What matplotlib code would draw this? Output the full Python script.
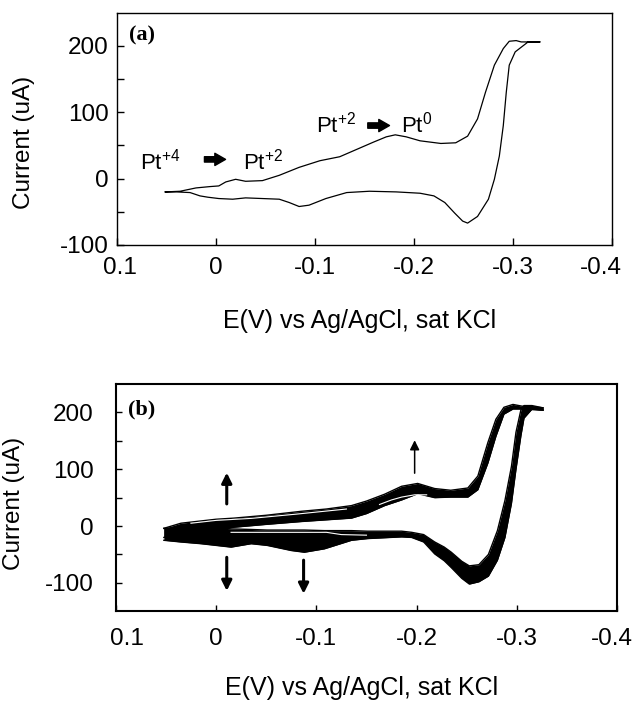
import matplotlib
matplotlib.use("Agg")
import matplotlib.pyplot as plt
from matplotlib.transforms import ScaledTranslation

plt.rcParams["font.family"] = ["Liberation Sans", "DejaVu Sans"]
plt.rcParams["mathtext.default"] = "regular"
plt.rcParams["axes.unicode_minus"] = False

# panel (a): one cyclic voltammogram, E (V) vs current (uA)
E_A_FWD = [0.051, 0.036, 0.020, 0.006, -0.003, -0.010, -0.020, -0.030, -0.047, -0.064,
           -0.084, -0.105, -0.125, -0.142, -0.159, -0.172, -0.181, -0.192, -0.206, -0.227,
           -0.242, -0.254, -0.264, -0.272, -0.281, -0.290, -0.296, -0.303, -0.308, -0.327]
I_A_FWD = [-20, -19, -14, -12, -11, -5, -1, -4, -3, 5,
           17, 27, 33, 44, 55, 63, 66, 63, 57, 53,
           54, 64, 90, 130, 171, 196, 207, 208, 206, 206]
E_A_REV = [-0.327, -0.315, -0.302, -0.296, -0.293, -0.290, -0.286, -0.281, -0.275, -0.264,
           -0.254, -0.249, -0.241, -0.231, -0.220, -0.206, -0.182, -0.155, -0.132, -0.111,
           -0.094, -0.084, -0.074, -0.064, -0.047, -0.030, -0.017, -0.003, 0.008, 0.016,
           0.026, 0.040, 0.051]
I_A_REV = [206, 206, 191, 171, 130, 80, 34, -1, -31, -57,
           -67, -64, -52, -36, -26, -22, -20, -19, -21, -30,
           -40, -42, -36, -31, -30, -29, -31, -30, -28, -26,
           -21, -20, -20]

# panel (b): repeated cycles, drawn as the band between the outermost scans
E_B_FWD = [0.052, 0.035, 0.015, 0.000, -0.018, -0.050, -0.085, -0.110, -0.135, -0.150,
           -0.168, -0.185, -0.201, -0.218, -0.234, -0.251, -0.261, -0.271, -0.279, -0.287,
           -0.296, -0.305, -0.315, -0.326]
I_B_FWD_HI = [-4, 5, 9, 12, 14, 19, 26, 30, 36, 44,
              56, 70, 75, 66, 63, 67, 88, 147, 188, 209,
              214, 211, 210, 208]
I_B_FWD_LO = [-20, -15, -10, -6, -2, 3, 8, 11, 14, 22,
              36, 46, 57, 50, 51, 51, 64, 111, 158, 197,
              206, 206, 205, 204]
E_B_REV = [-0.326, -0.315, -0.307, -0.304, -0.299, -0.2945, -0.288, -0.2805, -0.2715, -0.262,
           -0.2525, -0.245, -0.2345, -0.2275, -0.218, -0.207, -0.195, -0.185, -0.151, -0.135,
           -0.108, -0.088, -0.075, -0.051, -0.035, -0.015, 0.000, 0.015, 0.035, 0.052]
I_B_REV_HI = [208, 212, 212, 205, 165, 105, 45, -8, -50, -68,
              -70, -62, -46, -37, -28, -15, -11, -9, -9, -8,
              -8, -7, -7, -7, -6, -5, -2, -2, -3, -4]
I_B_REV_LO = [204, 206, 190, 160, 100, 40, -20, -60, -88, -98,
              -102, -92, -73, -61, -49, -28, -20, -19, -22, -25,
              -40, -46, -43, -34, -31, -37, -34, -31, -28, -25]

# white gaps between individual scans inside the band
GAP_1_E = [-0.163, -0.175, -0.185, -0.198, -0.210]
GAP_1_I = [38, 46, 51, 55, 55]
GAP_2_E = [-0.015, -0.060, -0.110, -0.125, -0.150]
GAP_2_I = [-11, -11, -11, -15, -16]
GAP_3_E = [0.025, 0.000, -0.035, -0.080, -0.130]
GAP_3_I = [5, 10, 13.5, 21, 30]

X_TICKS = [0.1, 0.0, -0.1, -0.2, -0.3, -0.4]
X_TICK_LABELS = ["0.1", "0", "-0.1", "-0.2", "-0.3", "-0.4"]
Y_TICKS = [-100, 0, 100, 200]
XLABEL = "E(V) vs Ag/AgCl, sat KCl"
YLABEL = "Current (uA)"


def style_axes(fig, ax, ylim, minor_y, frame_lw, xpad, ypad, tick_len, end_shift):
    ax.set_xlim(0.1, -0.4)
    ax.set_ylim(*ylim)
    ax.set_xticks(X_TICKS)
    ax.set_xticklabels(X_TICK_LABELS)
    ax.set_yticks(Y_TICKS)
    ax.set_yticks(minor_y, minor=True)
    ax.tick_params(axis="both", which="both", direction="in", length=tick_len,
                   width=1, labelsize=17.5, top=False, right=False)
    ax.tick_params(axis="x", pad=xpad)
    ax.tick_params(axis="y", pad=ypad)
    for spine in ax.spines.values():
        spine.set_linewidth(frame_lw)
        spine.set_color("black")
    labels = ax.get_xticklabels()
    for lab, dx in ((labels[0], end_shift[0]), (labels[-1], end_shift[1])):
        lab.set_transform(lab.get_transform() + ScaledTranslation(dx / 100, 0, fig.dpi_scale_trans))
    ax.set_xlabel(XLABEL, fontsize=18)
    ax.set_ylabel(YLABEL, fontsize=17.5)


def draw_panel_a(fig, ax):
    ax.plot(E_A_FWD + E_A_REV, I_A_FWD + I_A_REV, color="black", lw=0.9)
    style_axes(fig, ax, (-100, 250), [-50, 50, 150], 1.0, 9, 6, 5, (3, -11))
    ax.xaxis.set_label_coords(0.49, -0.275)
    ax.yaxis.set_label_coords(-0.165, 0.44)
    ax.text(0.025, 0.90, "(a)", transform=ax.transAxes, fontsize=16, fontweight="bold",
            family="Liberation Serif", va="center", ha="left")

    arrow = dict(arrowstyle="simple,head_length=0.7,head_width=0.8,tail_width=0.35",
                 color="black", mutation_scale=11, shrinkA=0, shrinkB=0)
    ax.text(0.0764, 14, "Pt$^{+4}$", fontsize=16, va="baseline", ha="left")
    ax.annotate("", xy=(-0.0098, 29), xytext=(0.0115, 29), arrowprops=arrow)
    ax.text(-0.027, 14, "Pt$^{+2}$", fontsize=16, va="baseline", ha="left")
    ax.text(-0.101, 70, "Pt$^{+2}$", fontsize=16, va="baseline", ha="left")
    ax.annotate("", xy=(-0.1752, 80), xytext=(-0.1533, 80), arrowprops=arrow)
    ax.text(-0.187, 70, "Pt$^{0}$", fontsize=16, va="baseline", ha="left")


def draw_panel_b(fig, ax):
    ax.fill_between(E_B_FWD, I_B_FWD_LO, I_B_FWD_HI, color="black", lw=0)
    ax.fill_between(E_B_REV, I_B_REV_LO, I_B_REV_HI, color="black", lw=0)
    for e, i in ((E_B_FWD, I_B_FWD_HI), (E_B_FWD, I_B_FWD_LO),
                 (E_B_REV, I_B_REV_HI), (E_B_REV, I_B_REV_LO)):
        ax.plot(e, i, color="black", lw=1.0)
    for e, i in ((GAP_1_E, GAP_1_I), (GAP_2_E, GAP_2_I), (GAP_3_E, GAP_3_I)):
        ax.plot(e, i, color="white", lw=0.8)

    style_axes(fig, ax, (-150, 250), [-50, 50, 150], 1.5, 12, 16, 4, (11, -5))
    ax.xaxis.set_label_coords(0.49, -0.286)
    ax.yaxis.set_label_coords(-0.180, 0.476)
    ax.text(0.025, 0.886, "(b)", transform=ax.transAxes, fontsize=16, fontweight="bold",
            family="Liberation Serif", va="center", ha="left")

    thick = dict(arrowstyle="-|>", color="black", lw=2.2, mutation_scale=15, shrinkA=0, shrinkB=0)
    thin = dict(arrowstyle="-|>", color="black", lw=1.1, mutation_scale=14, shrinkA=0, shrinkB=0)
    ax.annotate("", xy=(-0.0107, 94), xytext=(-0.0107, 39), arrowprops=thick)
    ax.annotate("", xy=(-0.0107, -114), xytext=(-0.0107, -55), arrowprops=thick)
    ax.annotate("", xy=(-0.0873, -119), xytext=(-0.0873, -60), arrowprops=thick)
    ax.annotate("", xy=(-0.198, 151), xytext=(-0.198, 93), arrowprops=thin)


def main():
    fig = plt.figure(figsize=(6.35, 7.03), dpi=100)
    ax_a = fig.add_axes([0.1838, 0.6515, 0.7805, 0.3304])
    ax_b = fig.add_axes([0.1822, 0.1304, 0.7899, 0.3234])
    draw_panel_a(fig, ax_a)
    draw_panel_b(fig, ax_b)
    fig.savefig("out.png", dpi=100)
    plt.close(fig)


if __name__ == "__main__":
    main()
